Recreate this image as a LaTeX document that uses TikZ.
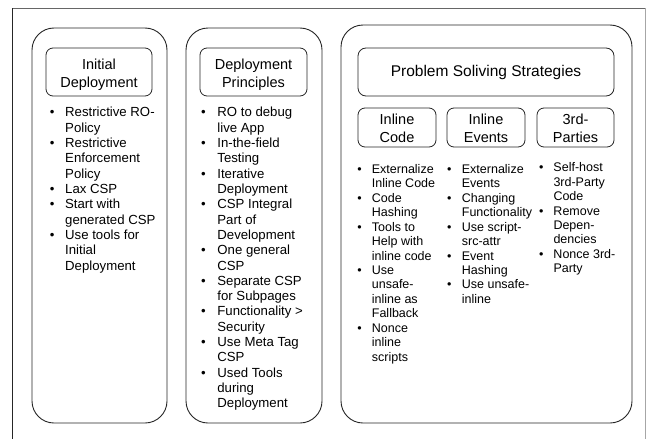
\documentclass[tikz,border=0pt]{standalone}
\usepackage{fontspec}
\setmainfont{Liberation Sans}
\newcommand{\blst}[2]{\begin{tabular}[t]{@{}p{#1}@{}l@{}}#2\end{tabular}}
\newcommand{\ctab}[1]{\begin{tabular}[t]{@{}c@{}}#1\end{tabular}}
\tikzset{
  container/.style={draw=black!85, line width=0.9pt, rounded corners=22pt, inner sep=0pt},
  hbox/.style={draw=black!85, line width=0.8pt, rounded corners=7pt, inner sep=0pt},
  hdr/.style={inner sep=0pt, anchor=base, font=\fontsize{14.5}{18.4}\selectfont},
  lstA/.style={inner sep=0pt, anchor=base west, font=\fontsize{13.2}{15.33}\selectfont},
  lstB/.style={inner sep=0pt, anchor=base west, font=\fontsize{12.5}{14.45}\selectfont},
}
\begin{document}
\begin{tikzpicture}[x=1pt,y=-1pt]
\useasboundingbox (0,0) rectangle (650,439);
\fill[white] (0,0) rectangle (650,439);
% outer frame
\draw[black!60, line width=0.8pt] (12,8) -- (645,8);
\draw[black!85, line width=0.9pt] (12,8) -- (12,439);
\draw[black!35, line width=0.8pt] (645,8) -- (645,439);

% containers
\node[container, minimum width=135pt, minimum height=395pt] (c1) at (99.5,225.5) {};
\node[container, minimum width=136pt, minimum height=395pt] (c2) at (254,225.5) {};
\node[container, minimum width=291pt, minimum height=398pt] (c3) at (486.5,224) {};

% header boxes
\node[hbox, minimum width=106pt, minimum height=48pt] (h1) at (99,72) {};
\node[hbox, minimum width=107pt, minimum height=48pt] (h2) at (253.5,72) {};
\node[hbox, rounded corners=8pt, minimum width=256pt, minimum height=48pt,
      font=\fontsize{15.5}{18}\selectfont] (h3) at (486,72) {Problem Soliving Strategies};
\node[hbox, minimum width=78pt, minimum height=39pt] (hic) at (397,127.5) {};
\node[hbox, minimum width=78pt, minimum height=39pt] (hie) at (486,127.5) {};
\node[hbox, minimum width=77pt, minimum height=39pt] (htp) at (575.5,127.5) {};

% header texts
\node[hdr] (t1) at (99,69) {\ctab{Initial\\Deployment}};
\node[hdr] (t2) at (253.5,69) {\ctab{Deployment\\Principles}};
\node[hdr, font=\fontsize{14.5}{18.3}\selectfont] (tic) at (397,124) {\ctab{Inline\\Code}};
\node[hdr, font=\fontsize{14.5}{18.3}\selectfont] (tie) at (486,124) {\ctab{Inline\\Events}};
\node[hdr, font=\fontsize{14.5}{18.3}\selectfont] (ttp) at (575.5,124) {\ctab{3rd-\\Parties}};

% lists
\node[lstA] (l1) at (49.7,116.7) {\blst{15.3pt}{%
\textbullet & Restrictive RO-\\ & Policy\\
\textbullet & Restrictive\\ & Enforcement\\ & Policy\\
\textbullet & Lax CSP\\
\textbullet & Start with\\ & generated CSP\\
\textbullet & Use tools for\\ & Initial\\ & Deployment}};

\node[lstA] (l2) at (200.9,116.7) {\blst{16.3pt}{%
\textbullet & RO to debug\\ & live App\\
\textbullet & In-the-field\\ & Testing\\
\textbullet & Iterative\\ & Deployment\\
\textbullet & CSP Integral\\ & Part of\\ & Development\\
\textbullet & One general\\ & CSP\\
\textbullet & Separate CSP\\ & for Subpages\\
\textbullet & Functionality >\\ & Security\\
\textbullet & Use Meta Tag\\ & CSP\\
\textbullet & Used Tools\\ & during\\ & Deployment}};

\node[lstB] (l3) at (357.1,173.3) {\blst{14.6pt}{%
\textbullet & Externalize\\ & Inline Code\\
\textbullet & Code\\ & Hashing\\
\textbullet & Tools to\\ & Help with\\ & inline code\\
\textbullet & Use\\ & unsafe-\\ & inline as\\ & Fallback\\
\textbullet & Nonce\\ & inline\\ & scripts}};

\node[lstB] (l4) at (446.8,173.3) {\blst{14.9pt}{%
\textbullet & Externalize\\ & Events\\
\textbullet & Changing\\ & Functionality\\
\textbullet & Use script-\\ & src-attr\\
\textbullet & Event\\ & Hashing\\
\textbullet & Use unsafe-\\ & inline}};

\node[lstB] (l5) at (538.8,171.7) {\blst{14.5pt}{%
\textbullet & Self-host\\ & 3rd-Party\\ & Code\\
\textbullet & Remove\\ & Depen-\\ & dencies\\
\textbullet & Nonce 3rd-\\ & Party}};
\end{tikzpicture}
\end{document}
